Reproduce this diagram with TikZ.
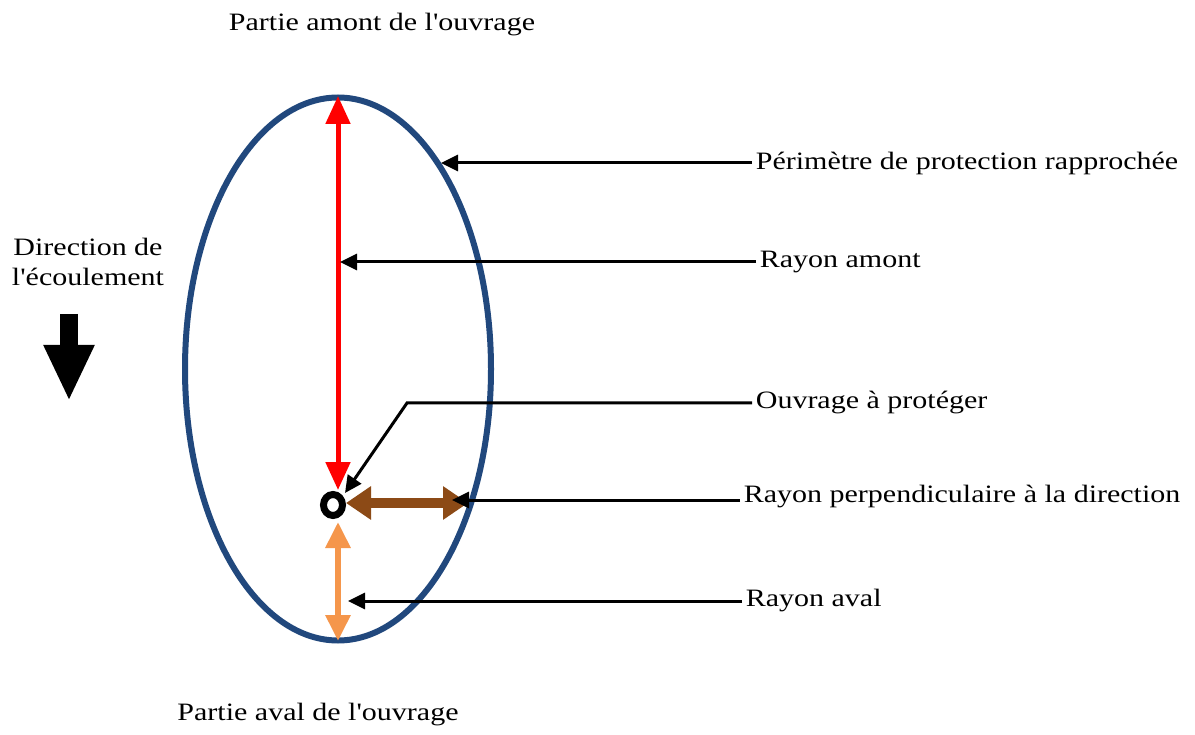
\documentclass[tikz,border=0pt]{standalone}
\usepackage{fontspec}
\setmainfont{Liberation Serif}
\usetikzlibrary{arrows.meta,shapes.geometric}
\definecolor{ellblue}{RGB}{33,72,125}
\definecolor{rayred}{RGB}{255,0,0}
\definecolor{raybrown}{RGB}{140,74,22}
\definecolor{rayorange}{RGB}{245,150,75}
\tikzset{
  lbl/.style={font=\fontsize{25}{30}\selectfont, xscale=1.2, transform shape, inner sep=3pt, text=black},
  leader/.style={draw=black, line width=3pt, -{Triangle[width=16pt,length=17pt]}},
}
\begin{document}
\begin{tikzpicture}[x=1pt,y=-1pt]
\useasboundingbox (0,0) rectangle (1195,735);
\fill[white] (0,0) rectangle (1195,735);

% titles
\node[lbl] (amont) at (382,25) {Partie amont de l\textquotesingle ouvrage};
\node[lbl] (aval) at (318,715) {Partie aval de l\textquotesingle ouvrage};
\node[lbl, align=center] (dir) at (88,262) {Direction de\\l\textquotesingle écoulement};
\coordinate (dirA) at (69,314);
\coordinate (dirB) at (69,401);
\draw[line width=18pt, -{Triangle[width=47pt,length=56pt]}] (dirA) -- (dirB);

% ellipse
\node[draw=ellblue, line width=6pt, ellipse, minimum width=306pt, minimum height=543pt, inner sep=0pt] (ell) at (338,369) {};

% radii
\coordinate (top) at (338,96);
\coordinate (ctrN) at (338,490);
\draw[rayred, line width=5pt, {Triangle[width=24pt,length=28pt]}-{Triangle[width=24pt,length=28pt]}] (top) -- (ctrN);
\coordinate (ctrS) at (338,522);
\coordinate (bot) at (338,641);
\draw[rayorange, line width=6pt, {Triangle[width=24pt,length=26pt]}-{Triangle[width=24pt,length=26pt]}] (ctrS) -- (bot);
\coordinate (ctrE) at (346,503);
\coordinate (east) at (468,503);
\draw[raybrown, line width=10pt, {Triangle[width=32pt,length=25pt]}-{Triangle[width=32pt,length=25pt]}] (ctrE) -- (east);

% works
\node[draw=black, ellipse, line width=7pt, minimum width=19pt, minimum height=21pt, inner sep=0pt, fill=white] (ouv) at (333,505) {};

% labels
\node[lbl, anchor=west] (lP) at (752,163) {Périmètre de protection rapprochée};
\node[lbl, anchor=west] (lA) at (756,262) {Rayon amont};
\node[lbl, anchor=west] (lO) at (752,403) {Ouvrage à protéger};
\node[lbl, anchor=west] (lR) at (740,497) {Rayon perpendiculaire à la direction};
\node[lbl, anchor=west] (lV) at (742,601) {Rayon aval};

% leaders
\coordinate (tP) at (441,163);
\coordinate (tA) at (340,262);
\coordinate (bend) at (407,403);
\coordinate (tO) at (345,493);
\coordinate (tR) at (452,500);
\coordinate (tV) at (348,601);
\draw[leader] (lP.west) -- (tP);
\draw[leader] (lA.west) -- (tA);
\draw[leader] (lO.west) -- (bend) -- (tO);
\draw[leader] (lR.west |- tR) -- (tR);
\draw[leader] (lV.west) -- (tV);
\end{tikzpicture}
\end{document}
